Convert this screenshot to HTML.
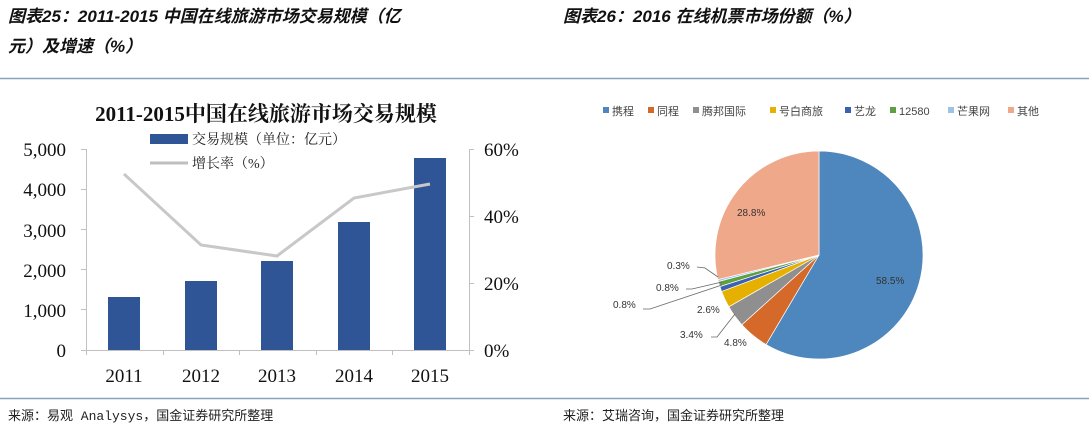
<!DOCTYPE html>
<html><head><meta charset="utf-8"><style>
body{margin:0;width:1089px;height:430px;background:#fff;overflow:hidden;font-family:"Liberation Serif","Noto Serif CJK SC",serif}
svg{position:absolute;left:0;top:0}
</style></head><body>
<svg width="1089" height="430" xmlns="http://www.w3.org/2000/svg">
<g font-family="Liberation Sans,Noto Sans CJK SC,sans-serif" font-style="italic" font-weight="bold" font-size="17" fill="#111">
<text x="8" y="22">图表25：2011-2015 中国在线旅游市场交易规模（亿</text>
<text x="8" y="52">元）及增速（%）</text>
<text x="563" y="22">图表26：2016 在线机票市场份额（%）</text>
</g>
<line x1="0" y1="78.5" x2="1089" y2="78.5" stroke="#8aa3bd" stroke-width="1.5"/>
<line x1="0" y1="398.5" x2="1089" y2="398.5" stroke="#8aa3bd" stroke-width="1.5"/>
<g font-family="Liberation Mono,Noto Sans CJK SC,monospace" font-size="13" fill="#222">
<text x="8" y="420">来源：易观 Analysys，国金证券研究所整理</text>
<text x="563" y="420">来源：艾瑞咨询，国金证券研究所整理</text>
</g>
<text x="266" y="121" text-anchor="middle" font-family="Liberation Serif,Noto Serif CJK SC,serif" font-weight="bold" font-size="21" fill="#111">2011-2015中国在线旅游市场交易规模</text>
<g stroke="#c0c0c0" stroke-width="1" fill="none">
<path d="M86.5,149V350.5H469.5V149"/>
<path d="M81,149.5h5M81,189.5h5M81,229.5h5M81,269.5h5M81,309.5h5M81,350.5h5"/>
<path d="M469,149.5h5M469,216.5h5M469,283.5h5M469,350.5h5"/>
<path d="M163.5,350v5M239.5,350v5M316.5,350v5M392.5,350v5M86.5,350v5M469.5,350v5"/>
</g>
<rect x="150" y="134" width="38" height="10" fill="#2f5597"/>
<text x="192" y="144" font-size="14" fill="#222" font-family="Liberation Serif,Noto Serif CJK SC,serif">交易规模（单位：亿元）</text>
<line x1="150" y1="163" x2="188" y2="163" stroke="#bfbfbf" stroke-width="3"/>
<text x="192" y="168" font-size="14" fill="#222" font-family="Liberation Serif,Noto Serif CJK SC,serif">增长率（%）</text>
<g font-size="19" fill="#111" text-anchor="end">
<text x="66" y="156">5,000</text><text x="66" y="196">4,000</text><text x="66" y="237">3,000</text>
<text x="66" y="277">2,000</text><text x="66" y="317">1,000</text><text x="66" y="357">0</text>
</g>
<g font-size="19" fill="#111">
<text x="484" y="156">60%</text><text x="484" y="223">40%</text><text x="484" y="290">20%</text><text x="484" y="357">0%</text>
</g>
<g font-size="19" fill="#111" text-anchor="middle">
<text x="124" y="382">2011</text><text x="201" y="382">2012</text><text x="277" y="382">2013</text><text x="354" y="382">2014</text><text x="430" y="382">2015</text>
</g>
<g fill="#2f5597">
<rect x="108" y="297" width="32" height="53"/>
<rect x="185" y="281" width="32" height="69"/>
<rect x="261" y="261" width="32" height="89"/>
<rect x="338" y="222" width="32" height="128"/>
<rect x="414" y="158" width="32" height="192"/>
</g>
<polyline points="124,174 201,245 277,256 354,198 430,184" fill="none" stroke="#c8c8c8" stroke-width="3"/>
<g id="pie"></g>
<g font-family="Liberation Sans,Noto Sans CJK SC,sans-serif" font-size="11" fill="#444">
<rect x="603" y="107" width="6" height="6" fill="#4e87bd"/><text x="612" y="115">携程</text>
<rect x="648" y="107" width="6" height="6" fill="#d4692a"/><text x="657" y="115">同程</text>
<rect x="693" y="107" width="6" height="6" fill="#8f8f8f"/><text x="702" y="115">腾邦国际</text>
<rect x="770" y="107" width="6" height="6" fill="#e6b000"/><text x="779" y="115">号白商旅</text>
<rect x="845" y="107" width="6" height="6" fill="#3a62b0"/><text x="854" y="115">艺龙</text>
<rect x="890" y="107" width="6" height="6" fill="#5fa045"/><text x="899" y="115">12580</text>
<rect x="948" y="107" width="6" height="6" fill="#9ec2e6"/><text x="957" y="115">芒果网</text>
<rect x="1008" y="107" width="6" height="6" fill="#f0a88a"/><text x="1017" y="115">其他</text>
</g>
<g font-family="Liberation Sans,sans-serif" font-size="10" fill="#333">
<text x="876" y="284">58.5%</text>
<text x="737" y="216">28.8%</text>
<text x="667" y="269">0.3%</text>
<text x="656" y="291">0.8%</text>
<text x="613" y="308">0.8%</text>
<text x="697" y="313">2.6%</text>
<text x="680" y="338">3.4%</text>
<text x="724" y="346">4.8%</text>
</g>
<g fill="none" stroke="#666" stroke-width="0.8">
<polyline points="697,267 705,268 718,277"/>
<polyline points="686,289 692,289 722,282"/>
<polyline points="643,309 650,309 722,285"/>
<polyline points="711,337 717,337 735,314"/>
</g>
</svg>
<script>
var d=[[58.5,"#4e87bd"],[4.8,"#d4692a"],[3.4,"#8f8f8f"],[2.6,"#e6b000"],[0.8,"#3a62b0"],[0.8,"#5fa045"],[0.3,"#9ec2e6"],[28.8,"#f0a88a"]];
var cx=819,cy=255,r=104,a=0,s="",tot=0;d.forEach(function(e){tot+=e[0]});
d.forEach(function(e){var a2=a+e[0]/tot*2*Math.PI;
var x1=cx+r*Math.sin(a),y1=cy-r*Math.cos(a),x2=cx+r*Math.sin(a2),y2=cy-r*Math.cos(a2);
s+='<path d="M'+cx+','+cy+'L'+x1+','+y1+'A'+r+','+r+' 0 '+((a2-a)>Math.PI?1:0)+' 1 '+x2+','+y2+'Z" fill="'+e[1]+'" stroke="#fff" stroke-width="0.7"/>';a=a2;});
document.getElementById("pie").innerHTML=s;
</script>
</body></html>
